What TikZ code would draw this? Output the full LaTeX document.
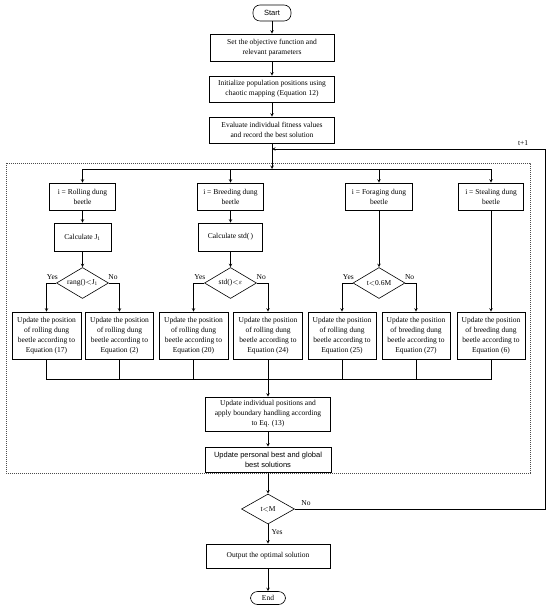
\documentclass[tikz,border=0pt]{standalone}
\usepackage{fontspec}
\setmainfont{Liberation Serif}
\newfontfamily\sansfont{Liberation Sans}
\usepackage{tikz}
\usetikzlibrary{shapes.geometric, arrows}
\tikzstyle{block} = [rectangle, draw=black, line width=0.6pt, fill=white, text centered, align=center, inner sep=1.5pt]
\tikzstyle{startstop} = [rectangle, rounded corners=7pt, draw=black, line width=0.6pt, inner sep=1pt]
\tikzstyle{decision} = [diamond, draw=black, line width=0.6pt, aspect=1.7, inner sep=0pt, minimum width=52pt, minimum height=31pt]
\tikzstyle{arrow} = [line width=0.6pt,->,>=stealth]
\tikzstyle{line} = [line width=0.6pt]
\tikzstyle{loopbox} = [draw=black!70, line width=0.8pt, dash pattern=on 0.9pt off 1.1pt]

\begin{document}
\begin{tikzpicture}[x=1pt, y=-1pt, font=\fontsize{7.5}{10}\selectfont]
    \useasboundingbox (0,0) rectangle (550,609);

    % main column
    \node (start) [startstop, minimum width=38pt, minimum height=16pt, font=\sansfont\fontsize{7.5}{10}\selectfont] at (272,13) {Start};
    \node (obj) [block, minimum width=124pt, minimum height=27pt] at (272,47.5) {Set the objective function and\\relevant parameters};
    \node (init) [block, minimum width=125pt, minimum height=26pt] at (272,89) {Initialize population positions using\\chaotic mapping (Equation 12)};
    \node (eval) [block, minimum width=125pt, minimum height=26pt] at (272,130) {Evaluate individual fitness values\\and record the best solution};
    \coordinate (loopin) at (272,149);
    \coordinate (split) at (272,169);

    % loop region
    \draw [loopbox] (6,163) rectangle (530,473);

    % four kinds of beetle
    \node (roll) [block, minimum width=66pt, minimum height=27pt] at (82.5,196.5) {i = Rolling dung\\beetle};
    \node (breed) [block, minimum width=66pt, minimum height=27pt] at (230.5,196.5) {i = Breeding dung\\beetle};
    \node (forage) [block, minimum width=67pt, minimum height=27pt] at (379,196.5) {i = Foraging dung\\beetle};
    \node (steal) [block, minimum width=65pt, minimum height=27pt] at (491,196.5) {i = Stealing dung\\beetle};

    \node (calcj) [block, minimum width=57pt, minimum height=28pt] at (82.5,237) {Calculate J\textsubscript{1}};
    \node (calcstd) [block, minimum width=64pt, minimum height=28pt] at (230.5,237) {Calculate std(\,)};

    \node (droll) [decision] at (82.5,283) {rang()$<$J\textsubscript{1}};
    \node (dbreed) [decision] at (230.5,283) {std()$<$$\varepsilon$};
    \node (dforage) [decision] at (379,283) {t$<$0.6M};

    % position updates
    \node (u1) [block, minimum width=69pt, minimum height=47pt] at (46.5,335.5) {Update the position\\of rolling dung\\beetle according to\\Equation (17)};
    \node (u2) [block, minimum width=68pt, minimum height=47pt] at (119.5,335.5) {Update the position\\of rolling dung\\beetle according to\\Equation (2)};
    \node (u3) [block, minimum width=69pt, minimum height=47pt] at (193.5,335.5) {Update the position\\of rolling dung\\beetle according to\\Equation (20)};
    \node (u4) [block, minimum width=69pt, minimum height=47pt] at (268,335.5) {Update the position\\of rolling dung\\beetle according to\\Equation (24)};
    \node (u5) [block, minimum width=68pt, minimum height=47pt] at (342,335.5) {Update the position\\of rolling dung\\beetle according to\\Equation (25)};
    \node (u6) [block, minimum width=68pt, minimum height=47pt] at (416,335.5) {Update the position\\of breeding dung\\beetle according to\\Equation (27)};
    \node (u7) [block, minimum width=68pt, minimum height=47pt] at (491,335.5) {Update the position\\of breeding dung\\beetle according to\\Equation (6)};
    \coordinate (merge) at (268,379);

    \node (indiv) [block, minimum width=125pt, minimum height=34pt] at (268,414) {Update individual positions and\\apply boundary handling according\\to Eq. (13)};
    \node (best) [block, minimum width=126pt, minimum height=25pt, font=\sansfont\fontsize{7.5}{10}\selectfont] at (268,459.5) {Update personal best and global\\best solutions};

    \node (check) [decision, minimum width=53pt, minimum height=30pt] at (268,509) {t$<$M};
    \coordinate (loopr) at (545,149);
    \node (output) [block, minimum width=124pt, minimum height=24pt] at (268,556) {Output the optimal solution};
    \node (end) [startstop, minimum width=35pt, minimum height=13pt] at (268,598) {End};

    % connectors
    \draw [arrow] (start) -- (obj);
    \draw [arrow] (obj) -- (init);
    \draw [arrow] (init) -- (eval);
    \draw [arrow] (eval) -- (split);
    \draw [arrow] (split) -| (roll);
    \draw [arrow] (split) -| (breed);
    \draw [arrow] (split) -| (forage);
    \draw [arrow] (split) -| (steal);

    \draw [arrow] (roll) -- (calcj);
    \draw [arrow] (calcj) -- (droll);
    \draw [arrow] (breed) -- (calcstd);
    \draw [arrow] (calcstd) -- (dbreed);
    \draw [arrow] (forage) -- (dforage);

    \draw [arrow] (droll.west) -| node [pos=0.2, above] {Yes} (u1);
    \draw [arrow] (droll.east) -| node [pos=0.2, above] {No} (u2);
    \draw [arrow] (dbreed.west) -| node [pos=0.2, above] {Yes} (u3);
    \draw [arrow] (dbreed.east) -| node [pos=0.2, above] {No} (u4);
    \draw [arrow] (dforage.west) -| node [pos=0.2, above] {Yes} (u5);
    \draw [arrow] (dforage.east) -| node [pos=0.2, above] {No} (u6);
    \draw [arrow] (steal) -- (u7);

    \draw [line] (u1) |- (merge);
    \draw [line] (u2) |- (merge);
    \draw [line] (u3) |- (merge);
    \draw [line] (u4) -- (merge);
    \draw [line] (u5) |- (merge);
    \draw [line] (u6) |- (merge);
    \draw [line] (u7) |- (merge);
    \draw [arrow] (merge) -- (indiv);
    \draw [arrow] (indiv) -- (best);
    \draw [arrow] (best) -- (check);

    \draw [arrow] (check.east) -| node [pos=0, above right, xshift=3pt] {No} (loopr) -- node [pos=0.08, above] {t+1} (loopin);
    \draw [arrow] (check) -- node [pos=0.4, right] {Yes} (output);
    \draw [arrow] (output) -- (end);
\end{tikzpicture}
\end{document}
